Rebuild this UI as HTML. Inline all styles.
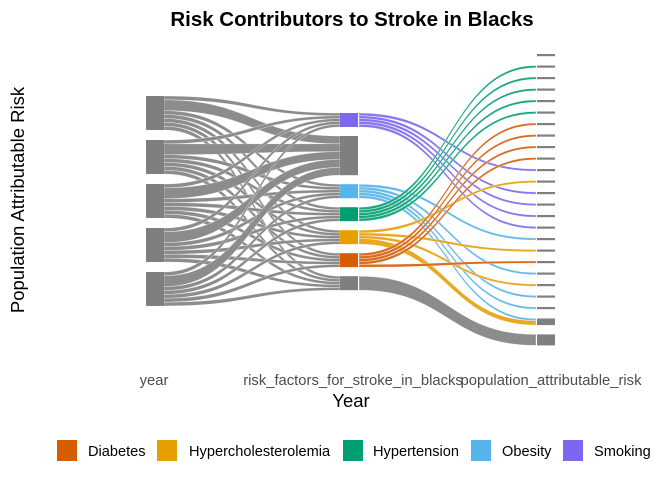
<!DOCTYPE html>
<html><head><meta charset="utf-8"><style>
body{margin:0;background:#fff}
svg{display:block;font-family:"Liberation Sans",Arial,sans-serif}
</style></head><body>
<svg id="chart" width="672" height="480" viewBox="0 0 672 480" xmlns="http://www.w3.org/2000/svg">
<text x="352" y="26" text-anchor="middle" font-size="20.5" font-weight="bold" fill="#000">Risk Contributors to Stroke in Blacks</text>
<text transform="translate(24,200) rotate(-90)" text-anchor="middle" font-size="18.5" fill="#000">Population Attributable Risk</text>
<text x="351" y="407" text-anchor="middle" font-size="18.5" fill="#000">Year</text>
<g font-size="14.8" fill="#4d4d4d">
<text x="154" y="385" text-anchor="middle">year</text>
<text x="353" y="385" text-anchor="middle">risk_factors_for_stroke_in_blacks</text>
<text x="551" y="385" text-anchor="middle">population_attributable_risk</text>
</g>
<g id="flows"></g>
<g id="strata"></g>
<g font-size="14.6" fill="#000">
<rect x="57" y="440" width="20" height="21" fill="#D55E00"/>
<text x="88" y="456">Diabetes</text>
<rect x="157" y="440" width="20" height="21" fill="#E69F00"/>
<text x="189" y="456">Hypercholesterolemia</text>
<rect x="343" y="440" width="20" height="21" fill="#009E73"/>
<text x="373" y="456">Hypertension</text>
<rect x="471" y="440" width="20" height="21" fill="#56B4E9"/>
<text x="502" y="456">Obesity</text>
<rect x="563" y="440" width="20" height="21" fill="#7B68EE"/>
<text x="594" y="456">Smoking</text>
</g>
</svg>
<script>
// years (left axis)
const years = ['y1','y2','y3','y4','y5'];
// middle strata: risk factors
const factors = ['Smoking','NA1','Obesity','Hypertension','Hypercholesterolemia','Diabetes','NA2'];
// year -> factor flow values (rows = years, cols = factors)
const yearFactor = [
 [1,2.8,1,1,1,1,1],
 [1,2.8,1,1,1,1,1],
 [1,2.8,1,1,1,1,1],
 [1,2.8,1,1,1,1,1],
 [1,2.8,1,1,1,1,1]
];
// PAR strata count (right axis)
const parCount = 25;
// factor -> PAR flows
const flowFactor = [0,0,0,0,0, 2,2,2,2,2, 3,3,3,3,3, 4,4,4,4, 5,5,5,5,5, 6];
const flowTarget = [10,12,13,14,15, 16,19,21,22,23, 1,2,3,4,5, 11,17,20,23, 6,7,8,9,18, 24];
const flowValue  = [1,1,1,1,1, 1,1,1,1,1, 1,1,1,1,1, 1,1,1,2, 1,1,1,1,1, 5];

const colors = {Smoking:'#7B68EE',Obesity:'#56B4E9',Hypertension:'#009E73',Hypercholesterolemia:'#E69F00',Diabetes:'#D55E00',NA1:'#7f7f7f',NA2:'#7f7f7f'};
const flowColors = {Smoking:'#8877ef',Obesity:'#66bbeb',Hypertension:'#1aa77f',Hypercholesterolemia:'#e9a81f',Diabetes:'#d86c1f',NA1:'#8c8c8c',NA2:'#8c8c8c'};
const NS='http://www.w3.org/2000/svg';
const gF=document.getElementById('flows'), gS=document.getElementById('strata');
const xL=146,xM=340,xR=536,W=18;
const scaleL=34/ (yearFactor[0].reduce((a,b)=>a+b,0)), scaleM=2.8, scaleR=2.2;
const topL=96,gapL=10, topM=113,gapM=9, topR=54,gapR=9.3;

function rect(x,y,w,h,fill,name){const r=document.createElementNS(NS,'rect');r.setAttribute('x',x);r.setAttribute('y',y);r.setAttribute('width',w);r.setAttribute('height',Math.max(h,1.5));r.setAttribute('fill',fill);


gS.appendChild(r);}
function ribbon(x0,a0,a1,x1,b0,b1,fill,name){const p=document.createElementNS(NS,'path');const m=(x0+x1)/2;
p.setAttribute('d',`M${x0},${a0}C${m},${a0} ${m},${b0} ${x1},${b0}L${x1},${b1}C${m},${b1} ${m},${a1} ${x0},${a1}Z`);
p.setAttribute('fill',fill);p.setAttribute('stroke','#fff');p.setAttribute('stroke-width','0.4');p.setAttribute('stroke-opacity','0.8');


gF.appendChild(p);}

const yearY=[];let y=topL;
years.forEach((yr,i)=>{const h=yearFactor[i].reduce((a,b)=>a+b,0)*scaleL;yearY.push(y);rect(xL,y,W,h,'#7f7f7f','year-stratum-'+(i+1));y+=h+gapL;});
const colSum=factors.map((f,j)=>yearFactor.reduce((s,r)=>s+r[j],0));
const midY=[];y=topM;
factors.forEach((f,j)=>{const h=colSum[j]*scaleM;midY.push(y);y+=h+gapM;});
const parSum=new Array(parCount).fill(0);flowTarget.forEach((t,k)=>parSum[t]+=flowValue[k]);
const parY=[];y=topR;
for(let t=0;t<parCount;t++){const h=Math.max(parSum[t],1)*scaleR;parY.push(y);y+=h+gapR;}

const outL=yearY.slice(), inM=midY.slice();
years.forEach((yr,i)=>{factors.forEach((f,j)=>{const v=yearFactor[i][j];const a0=outL[i],a1=a0+v*scaleL;outL[i]=a1;const b0=inM[j],b1=b0+v*scaleM;inM[j]=b1;
ribbon(xL+W,a0,a1,xM,b0,b1,'#8c8c8c','flow-'+yr+'-'+f.toLowerCase());});});
const outM=midY.slice(), inR=parY.slice();
const order=flowFactor.map((f,k)=>k).sort((a,b)=>flowFactor[a]-flowFactor[b]||flowTarget[a]-flowTarget[b]);
const rOrder=flowFactor.map((f,k)=>k).sort((a,b)=>flowTarget[a]-flowTarget[b]||flowFactor[a]-flowFactor[b]);
const rPos={};rOrder.forEach(k=>{const t=flowTarget[k];rPos[k]=inR[t];inR[t]+=flowValue[k]*scaleR;});
order.forEach(k=>{const j=flowFactor[k],v=flowValue[k];const a0=outM[j],a1=a0+v*scaleM;outM[j]=a1;const b0=rPos[k],b1=b0+v*scaleR;
ribbon(xM+W+1,a0,a1,xR,b0,b1,flowColors[factors[j]],'flow-'+factors[j].toLowerCase()+'-par'+flowTarget[k]);});
factors.forEach((f,j)=>rect(xM,midY[j],W,colSum[j]*scaleM,colors[f],'factor-stratum-'+f.toLowerCase()));
for(let t=0;t<parCount;t++)rect(xR+1,parY[t],W,Math.max(parSum[t],1)*scaleR,'#7f7f7f','par-stratum-'+t);
</script>
</body></html>
